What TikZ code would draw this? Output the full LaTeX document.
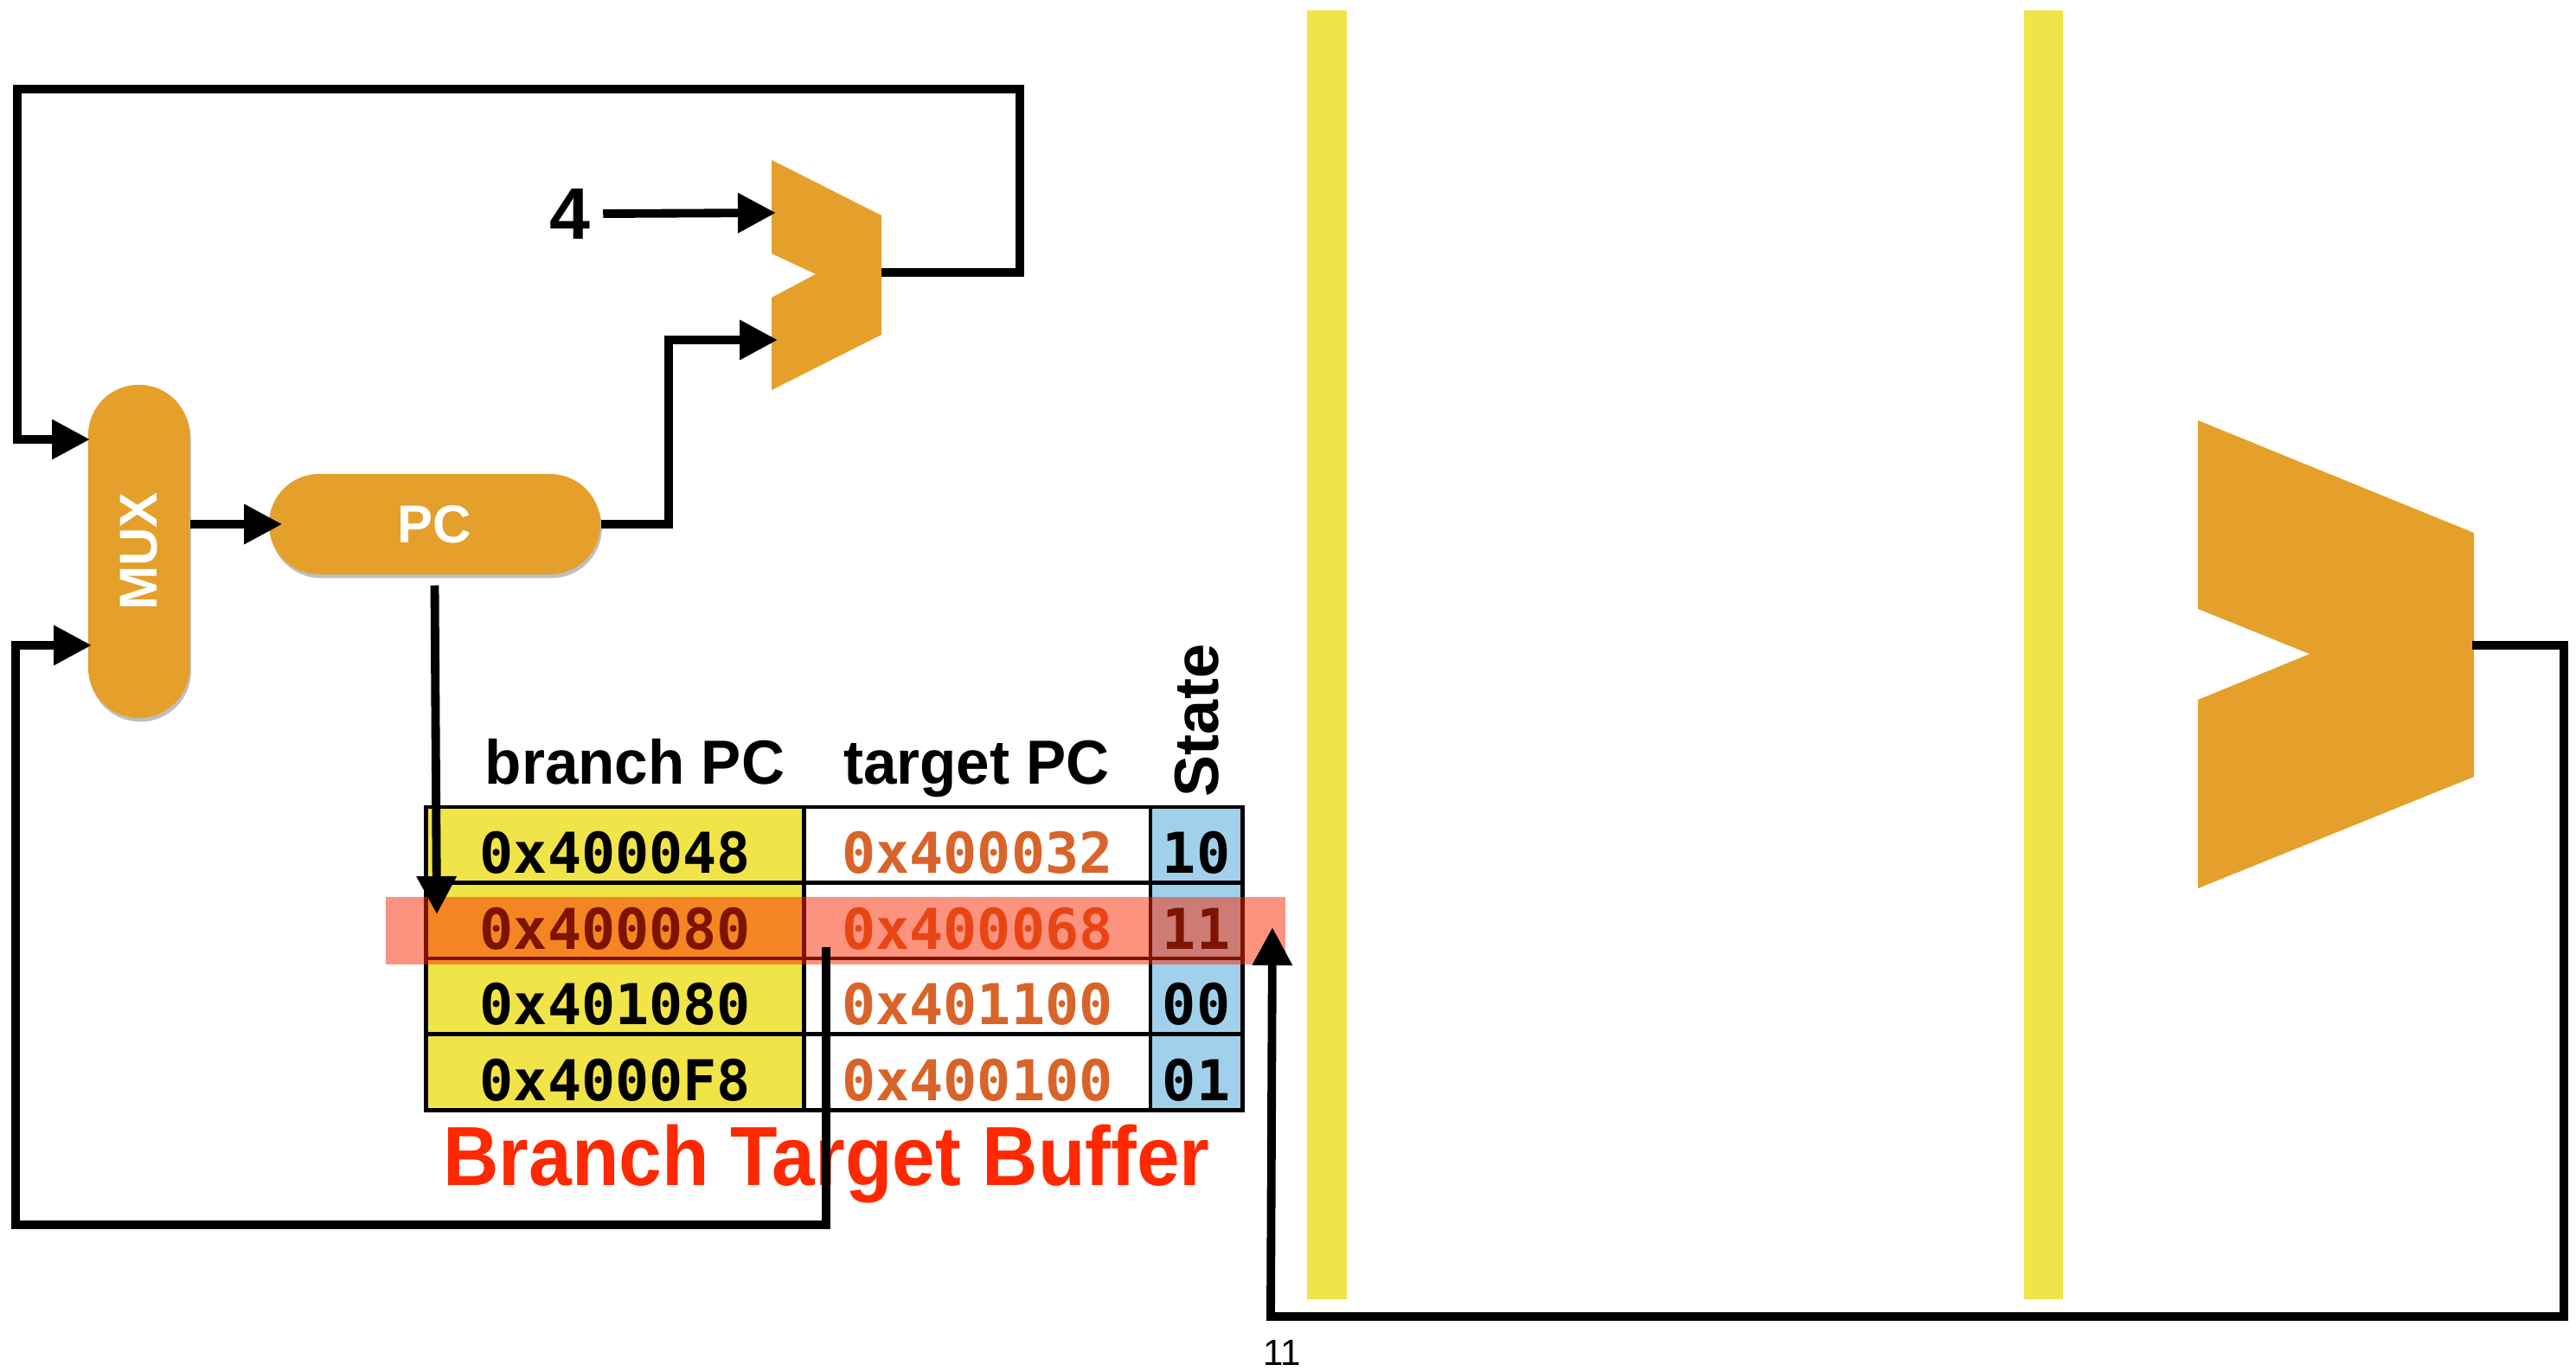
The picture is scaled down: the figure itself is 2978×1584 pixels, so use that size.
\documentclass[tikz,border=0pt]{standalone}
\usepackage{fontspec}
\setmainfont{Liberation Sans}
\newfontfamily\monofont{DejaVu Sans Mono}
\usetikzlibrary{arrows.meta,shadows}

\definecolor{unitorange}{RGB}{228,160,42}
\definecolor{latchyellow}{RGB}{240,228,72}
\definecolor{cellyellow}{RGB}{240,228,72}
\definecolor{cellblue}{RGB}{160,208,236}
\definecolor{addrorange}{RGB}{216,100,42}
\definecolor{hitred}{RGB}{250,40,0}
\definecolor{titlered}{RGB}{255,40,0}

\begin{document}
\begin{tikzpicture}[x=0.01cm,y=-0.01cm,
  wire/.style={line width=2.8pt, line join=miter},
  tip/.style={-{Triangle[length=12.5pt,width=12.5pt]}},
  unit/.style={fill=unitorange, draw=none, rounded corners=0.58cm, inner sep=0pt,
    text=white, font=\fontsize{17.5}{17.5}\selectfont\bfseries,
    drop shadow={shadow xshift=0.5pt, shadow yshift=-1.2pt, opacity=0.25, fill=black}},
  cell/.style={draw=black, line width=1.4pt, inner sep=0pt, minimum height=0.875cm,
    text height=0.70cm, text depth=0.04cm,
    font=\monofont\bfseries\fontsize{18.5}{18.5}\selectfont},
  pccol/.style={cell, fill=cellyellow, minimum width=4.37cm, text=black},
  tgtcol/.style={cell, fill=white, minimum width=4.00cm, text=addrorange},
  stcol/.style={cell, fill=cellblue, minimum width=1.06cm, text=black},
  header/.style={font=\fontsize{20.5}{20.5}\selectfont\bfseries, inner sep=0pt, anchor=base},
]
\useasboundingbox (0,0) rectangle (2978,1584);

% pipeline latches
\fill[latchyellow] (1511,12) rectangle (1557,1502);
\fill[latchyellow] (2340,12) rectangle (2385,1502);

% PC + 4 adder
\fill[unitorange] (892,185) -- (1019,249) -- (1019,387) -- (892,451)
  -- (892,344) -- (943,317) -- (892,293) -- cycle;
\coordinate (addA-in1) at (897,246);
\coordinate (addA-in2) at (899,393);
\coordinate (addA-out) at (1019,315);

% branch target adder
\fill[unitorange] (2541,486) -- (2860,616) -- (2860,898) -- (2541,1027)
  -- (2541,809) -- (2670,756) -- (2541,704) -- cycle;
\coordinate (addB-out) at (2858,746);

% MUX and PC
\node[unit, minimum width=1.17cm, minimum height=3.85cm] (mux) at (160.5,637.5) {\rotatebox{90}{MUX}};
\node[unit, minimum width=3.83cm, minimum height=1.16cm] (pc) at (502.5,606) {PC};
\node[font=\fontsize{24}{24}\selectfont\bfseries, inner sep=4pt] (four) at (659,247) {4};

% branch target buffer
\node[pccol]  (r1c1) at (711.5,976.75)  {0x400048};
\node[tgtcol] (r1c2) at (1130,976.75)   {0x400032};
\node[stcol]  (r1c3) at (1383,976.75)   {10};
\node[pccol]  (r2c1) at (711.5,1064.25) {0x400080};
\node[tgtcol] (r2c2) at (1130,1064.25)  {0x400068};
\node[stcol]  (r2c3) at (1383,1064.25)  {11};
\node[pccol]  (r3c1) at (711.5,1151.75) {0x401080};
\node[tgtcol] (r3c2) at (1130,1151.75)  {0x401100};
\node[stcol]  (r3c3) at (1383,1151.75)  {00};
\node[pccol]  (r4c1) at (711.5,1239.25) {0x4000F8};
\node[tgtcol] (r4c2) at (1130,1239.25)  {0x400100};
\node[stcol]  (r4c3) at (1383,1239.25)  {01};

\node[header] (hbranch) at (734,906) {\scalebox{0.96}[1]{branch PC}};
\node[header] (htarget) at (1129,906) {\scalebox{0.96}[1]{target PC}};
\node[header, rotate=90] (hstate) at (1408,833) {State};
\node[font=\fontsize{27.6}{27.6}\selectfont\bfseries, text=titlered, inner sep=0pt, anchor=base]
  (btbtitle) at (955.5,1370) {\scalebox{0.92}[1]{Branch Target Buffer}};

% matching entry
\fill[hitred, opacity=0.5] (446,1037) rectangle (1486,1115);

% wires
\coordinate (muxin-a) at (104,508);
\coordinate (muxin-b) at (106,746);
\coordinate (lookup) at (505,1057);
\coordinate (tgtout) at (955,1095);
\coordinate (hitin) at (1471,1072);

\draw[wire,tip] (addA-out) -- (1179,315) -- (1179,103) -- (20,103) -- (20,508) -- (muxin-a);
\draw[wire,tip] (four.east) -- (addA-in1);
\draw[wire,tip] (mux.east |- pc.west) -- ([xshift=0.16cm]pc.west);
\draw[wire,tip] (pc.east) -- (773,606) -- (773,393) -- (addA-in2);
\draw[wire,tip] ([yshift=-0.12cm]pc.south) -- (lookup);
\draw[wire,tip] (tgtout) -- (955,1416) -- (18,1416) -- (18,746) -- (muxin-b);
\draw[wire,tip] (addB-out) -- (2964,746) -- (2964,1522) -- (1469,1522) -- (hitin);

\node[font=\fontsize{12}{12}\selectfont, inner sep=0pt, anchor=base] (stateval) at (1482,1578) {11};
\end{tikzpicture}
\end{document}
